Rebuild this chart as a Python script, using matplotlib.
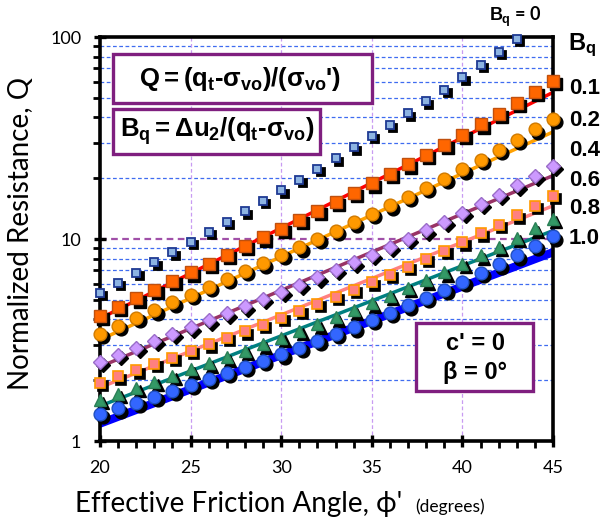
import numpy as np
import matplotlib
matplotlib.use("Agg")
import matplotlib.pyplot as plt
from matplotlib.patches import Rectangle
from matplotlib.transforms import offset_copy
from matplotlib.ticker import MultipleLocator, FixedLocator, NullFormatter

plt.rcParams['mathtext.fontset'] = 'custom'
plt.rcParams['mathtext.rm'] = 'Liberation Sans:bold'
plt.rcParams['mathtext.it'] = 'Liberation Sans:bold'
plt.rcParams['mathtext.bf'] = 'Liberation Sans:bold'

# friction angle (degrees)
phi = list(range(20, 46))
phi_b0 = list(range(20, 44))

# normalized resistance Q (markers)
q_b00 = [5.40, 6.07, 6.82, 7.66, 8.60, 9.66, 10.85, 12.20, 13.72, 15.44, 17.40, 19.63,
         22.18, 25.09, 28.44, 32.30, 36.75, 41.93, 47.94, 54.96, 63.20, 72.92, 84.37, 98.0]
q_b01 = [4.16, 4.61, 5.09, 5.62, 6.21, 6.85, 7.56, 8.35, 9.22, 10.18, 11.25, 12.45, 13.78,
         15.27, 16.95, 18.84, 20.97, 23.38, 26.13, 29.24, 32.82, 36.92, 41.63, 47.09, 53.45, 60.85]
q_b02 = [3.38, 3.71, 4.06, 4.44, 4.85, 5.31, 5.80, 6.34, 6.94, 7.59, 8.32, 9.11, 10.00,
         10.98, 12.07, 13.30, 14.67, 16.21, 17.96, 19.92, 22.16, 24.72, 27.63, 30.99, 34.88, 39.37]
q_b04 = [2.46, 2.67, 2.89, 3.13, 3.38, 3.66, 3.96, 4.29, 4.64, 5.04, 5.46, 5.93, 6.45,
         7.03, 7.66, 8.37, 9.16, 10.05, 11.05, 12.17, 13.44, 14.88, 16.52, 18.41, 20.58, 23.08]
q_b06 = [1.94, 2.09, 2.24, 2.41, 2.59, 2.79, 3.01, 3.24, 3.49, 3.77, 4.07, 4.40, 4.77,
         5.17, 5.61, 6.11, 6.66, 7.28, 7.98, 8.76, 9.64, 10.65, 11.78, 13.09, 14.59, 16.33]
q_b08 = [1.60, 1.71, 1.83, 1.96, 2.10, 2.26, 2.42, 2.60, 2.80, 3.01, 3.24, 3.50, 3.78,
         4.09, 4.43, 4.81, 5.23, 5.71, 6.24, 6.84, 7.52, 8.29, 9.16, 10.16, 11.31, 12.63]
q_b10 = [1.36, 1.45, 1.55, 1.66, 1.77, 1.89, 2.03, 2.17, 2.33, 2.50, 2.69, 2.90, 3.13,
         3.38, 3.66, 3.97, 4.31, 4.70, 5.13, 5.61, 6.16, 6.78, 7.49, 8.30, 9.23, 10.30]

# trend lines (end points at 20 and 45 degrees)
line_phi = [20, 45]
line_b01 = [4.04, 53.2]
line_b02 = [3.17, 33.9]
line_b04 = [2.33, 20.6]
line_b06 = [1.84, 14.6]
line_b08 = [1.49, 11.0]
line_b10 = [1.22, 8.6]

bq_labels = ['0.1', '0.2', '0.4', '0.6', '0.8', '1.0']

W, H = 606, 527
fig = plt.figure(figsize=(W / 100, H / 100), dpi=100)
ax = fig.add_axes([100 / W, 1 - 441 / H, 453 / W, 404 / H])

ax.set_yscale('log')
ax.set_xlim(20, 45)
ax.set_ylim(1, 100)

# grid
ax.xaxis.set_major_locator(MultipleLocator(5))
ax.xaxis.set_minor_locator(MultipleLocator(1))
ax.yaxis.set_major_locator(FixedLocator([1, 10, 100]))
ax.yaxis.set_minor_locator(FixedLocator([2, 3, 4, 5, 6, 7, 8, 9, 20, 30, 40, 50, 60, 70, 80, 90]))
ax.yaxis.set_minor_formatter(NullFormatter())
ax.set_yticklabels(['1', '10', '100'])
for v in [2, 3, 4, 5, 6, 7, 8, 9, 20, 30, 40, 50, 60, 70, 80, 90]:
    ax.axhline(v, color='#3F6CF0', lw=0.9, ls=(0, (3, 2)), zorder=1)
ax.axhline(10, color='#A050A8', lw=1.6, ls=(0, (3, 2)), zorder=1)
for v in [25, 30, 35, 40]:
    ax.axvline(v, color='#C89BF2', lw=0.9, ls=(0, (3, 2)), zorder=1)

# trend lines
ax.plot(line_phi, line_b01, color='#FF0000', lw=2.5, zorder=2)
ax.plot(line_phi, line_b02, color='#FFA000', lw=2.5, zorder=2)
ax.plot(line_phi, line_b04, color='#993366', lw=2.5, zorder=2)
ax.plot(line_phi, line_b06, color='#FF8080', lw=2.5, zorder=2)
ax.plot(line_phi, line_b08, color='#008080', lw=2.5, zorder=2)
ax.plot(line_phi, line_b10, color='#0000FF', lw=6, zorder=2)

shadow = offset_copy(ax.transData, fig=fig, x=2.4, y=-2.4, units='points')

series = [
    (phi_b0, q_b00, 's', 5.6, '#8DB4E2', '#1F3A93', 1.3),
    (phi, q_b01, 's', 8.6, '#FF6600', '#C0500E', 1.0),
    (phi, q_b02, 'o', 9.2, '#FF9900', '#D07A00', 1.0),
    (phi, q_b04, 'D', 6.8, '#CC99FF', '#9A6CC8', 1.0),
    (phi, q_b06, 's', 7.2, '#FF8080', '#FF9900', 1.2),
    (phi, q_b08, '^', 8.8, '#339966', '#2A7F56', 1.0),
    (phi, q_b10, 'o', 9.2, '#3366FF', '#1F4FBF', 1.0),
]
for xs, ys, m, ms, fc, ec, mew in series:
    ax.plot(xs, ys, ls='none', marker=m, ms=ms, mfc='black', mec='black', mew=mew,
            transform=shadow, zorder=3, clip_on=False)
    ax.plot(xs, ys, ls='none', marker=m, ms=ms, mfc=fc, mec=ec, mew=mew, zorder=4,
            clip_on=False)

# axes styling
for s in ax.spines.values():
    s.set_linewidth(2.6)
ax.tick_params(which='major', direction='inout', length=9, width=2.4,
               labelsize=13, pad=9)
ax.tick_params(which='minor', direction='out', length=5, width=2.0)
for lab in ax.get_xticklabels() + ax.get_yticklabels():
    lab.set_fontfamily('Lato')

fig.text(21 / W, 1 - 233 / H, 'Normalized Resistance, Q', rotation=90,
         ha='center', va='center', fontsize=20, family=['Lato', 'DejaVu Sans'])
fig.text(75 / W, 1 - 512 / H, "Effective Friction Angle, \u03d5'", ha='left',
         va='baseline', fontsize=20, family=['Lato', 'DejaVu Sans'])
fig.text(485 / W, 1 - 512 / H, '(degrees)', ha='right', va='baseline',
         fontsize=12.5, family=['Lato', 'DejaVu Sans'])

# boxed notes
def note_box(x0, y0, x1, y1):
    fig.add_artist(Rectangle((x0 / W, 1 - y1 / H), (x1 - x0) / W, (y1 - y0) / H,
                             transform=fig.transFigure, facecolor='white',
                             edgecolor='#7F1F7F', lw=2.4, zorder=5))

note_box(113, 54, 372, 103)
fig.text(240 / W, 1 - 79 / H,
         r"$Q = (q_t\text{-}\sigma_{vo})/(\sigma_{vo}\text{'})$",
         ha='center', va='center', fontsize=18.5, zorder=6)
note_box(113, 109, 320, 154)
fig.text(217 / W, 1 - 131 / H, r"$B_q = \Delta u_2/(q_t\text{-}\sigma_{vo})$",
         ha='center', va='center', fontsize=18.5, zorder=6)
note_box(416, 323, 533, 391)
fig.text(475 / W, 1 - 343 / H, "c' = 0", ha='center', va='center', fontsize=17,
         fontweight='bold', family='Liberation Sans', zorder=6)
fig.text(475 / W, 1 - 373 / H, "\u03b2 = 0\u00b0", ha='center', va='center', fontsize=17,
         fontweight='bold', family='Liberation Sans', zorder=6)

# Bq labels on the right
fig.text(568 / W, 1 - 45 / H, r"$B_q$", ha='left', va='center', fontsize=17)
label_y = [88, 121, 151, 180, 209, 238]
for t, yy in zip(bq_labels, label_y):
    fig.text(569 / W, 1 - yy / H, t, ha='left', va='center', fontsize=16,
             fontweight='bold', family='Liberation Sans')
fig.text(515 / W, 1 - 17 / H, r"$B_q$" + " = 0", ha='center', va='center', fontsize=13,
         fontweight='bold', family='Lato')

fig.savefig('out.png', dpi=100)
